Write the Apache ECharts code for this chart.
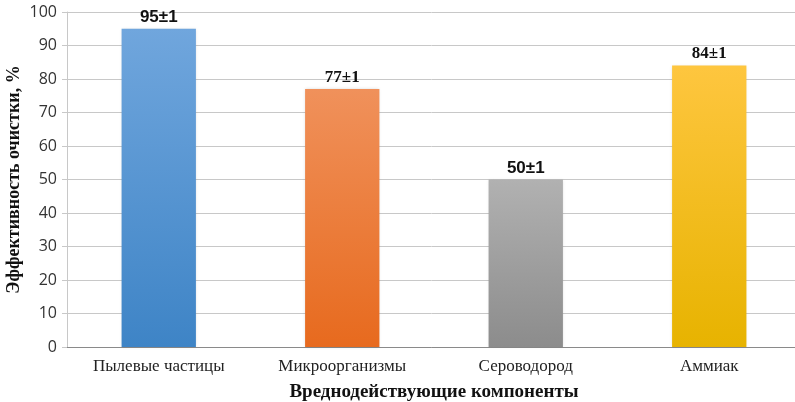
<!DOCTYPE html>
<html><head><meta charset="utf-8">
<script src="https://cdn.jsdelivr.net/npm/echarts@6/dist/echarts.min.js"></script>
<style>html,body{margin:0;padding:0;background:#fff}#c{width:795px;height:402px}</style>
</head><body><div id="c"></div>
<script>
const categories = ['Пылевые частицы', 'Микроорганизмы', 'Сероводород', 'Аммиак'];
const values = [95, 77, 50, 84];
const labels = ['95±1', '77±1', '50±1', '84±1'];
const yTicks = {min: 0, max: 100, interval: 10};
const topColors = ['#70a6dd', '#f0915b', '#b1b1b1', '#fec63f'];
const bottomColors = ['#3e84c6', '#e76a1e', '#8c8c8c', '#e7b300'];
const labelFonts = ['"Liberation Sans", Arial, sans-serif', '"Liberation Serif", serif', '"Liberation Sans", Arial, sans-serif', '"Liberation Serif", serif'];

const chart = echarts.init(document.getElementById('c'), null, {renderer: 'canvas'});
chart.setOption({
  animation: false,
  grid: {left: 67, top: 12, width: 734, height: 335, containLabel: false, outerBoundsMode: 'none'},
  xAxis: {
    type: 'category', data: categories,
    name: 'Вреднодействующие компоненты', nameLocation: 'middle', nameGap: 36,
    nameTextStyle: {fontFamily: '"Liberation Serif", serif', fontWeight: 'bold', fontSize: 19, color: '#111'},
    axisLine: {show: true, lineStyle: {color: '#8a8a8a', width: 1}},
    axisTick: {show: false},
    axisLabel: {fontFamily: '"Liberation Serif", serif', fontSize: 17, color: '#222', margin: 11}
  },
  yAxis: {
    type: 'value', min: yTicks.min, max: yTicks.max, interval: yTicks.interval,
    name: 'Эффективность очистки, %', nameLocation: 'middle', nameGap: 44, nameRotate: 90,
    nameMoveOverlap: false,
    nameTextStyle: {fontFamily: '"Liberation Serif", serif', fontWeight: 'bold', fontSize: 18, color: '#111'},
    axisLine: {show: true, lineStyle: {color: '#c8c8c8'}},
    axisTick: {show: true, length: 5, lineStyle: {color: '#c8c8c8'}},
    splitLine: {show: true, lineStyle: {color: '#c8c8c8', width: 1}},
    axisLabel: {fontFamily: '"Open Sans", sans-serif', fontSize: 16, color: '#333', margin: 10}
  },
  series: [{
    type: 'bar', barWidth: '40.5%',
    data: values.map((v, i) => ({
      value: v,
      itemStyle: {
        color: new echarts.graphic.LinearGradient(0, 0, 0, 1, [
          {offset: 0, color: topColors[i]}, {offset: 1, color: bottomColors[i]}
        ]),
        shadowColor: 'rgba(0,0,0,0.15)', shadowBlur: 3
      },
      label: {
        show: true, position: 'top', distance: 3, formatter: labels[i],
        fontFamily: labelFonts[i], fontWeight: 'bold', fontSize: 17, color: '#111'
      }
    }))
  }]
});
</script></body></html>
